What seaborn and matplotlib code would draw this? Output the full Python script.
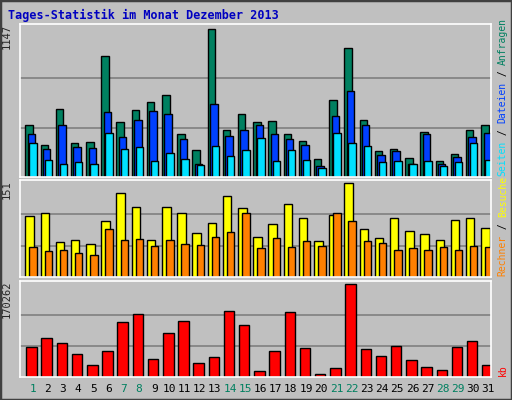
import matplotlib
matplotlib.use("Agg")
import matplotlib.pyplot as plt
import seaborn as sns
import numpy as np
import pandas as pd
from matplotlib.patches import Rectangle

days = list(range(1, 32))
anfragen = [400,252,524,260,275,937,423,516,579,633,337,213,1147,368,485,423,431,337,283,143,594,999,439,205,221,151,353,127,182,361,400]
dateien = [337,221,407,236,228,501,314,439,509,485,298,104,563,322,368,407,337,291,252,88,470,664,400,174,205,104,330,104,158,314,345]
seiten = [260,135,104,119,104,345,221,236,127,189,143,96,244,166,213,306,127,213,135,73,345,267,244,119,127,104,127,88,119,260,135]
besuche = [98,103,56,59,53,90,135,113,59,113,103,71,87,130,110,64,85,117,95,57,100,151,77,62,95,74,69,59,92,94,79]
rechner = [48,41,44,38,36,77,59,61,49,59,53,51,64,72,103,46,62,48,57,49,103,90,57,54,44,46,44,48,44,49,48]
kb = [54683,71461,62140,41634,21128,47226,101288,116202,32313,80782,103152,24856,36041,121794,95696,11807,47226,119930,52819,6214,17399,170262,50955,37905,56547,30449,19263,13671,54683,65868,21128]
weekend = [1,7,8,14,15,21,22,28,29]

sns.set_style("white")
plt.rcParams['font.family'] = ['DejaVu Sans Mono', 'DejaVu Sans']
BG = "#c0c0c0"
fig = plt.figure(figsize=(5.12, 4.0), dpi=100, facecolor=BG)
fig.patches.append(Rectangle((0, 0), 1, 1, transform=fig.transFigure, fill=False,
                             edgecolor="#404040", lw=2.5))
x = np.arange(31)
XL = (-0.73, 30.27)
L, W = 20/512, 471/512

def mkax(bottom, h, top):
    ax = fig.add_axes([L, bottom, W, h])
    ax.set_facecolor(BG)
    ax.set_xlim(*XL)
    ax.set_ylim(0, top)
    ax.set_xticks([]); ax.set_yticks([])
    for s in ax.spines.values():
        s.set_color("white"); s.set_linewidth(1.2)
    return ax

def grid(ax, m):
    for f in (1/3, 2/3):
        ax.axhline(m*f, color="#808080", lw=1.2, zorder=0)

ek = dict(edgecolor="black", linewidth=1, align="edge")

m1 = max(anfragen)
ax1 = mkax(1-177/400, 153/400, m1*1.035)
grid(ax1, m1)
ax1.bar(x-0.38, anfragen, 0.49, color="#008060", **ek)
ax1.bar(x-0.22, dateien, 0.49, color="#0040ff", **ek)
ax1.bar(x-0.11, seiten, 0.49, color="#00e0ff", **ek)
ax1.text(-0.028, 1.0, str(m1), transform=ax1.transAxes, rotation=90, ha="center", va="top", fontsize=7.5)

m2 = max(besuche)
ax2 = mkax(1-277/400, 97/400, m2*1.03)
grid(ax2, m2)
ax2.bar(x-0.38, besuche, 0.56, color="#ffff00", **ek)
ax2.bar(x-0.11, rechner, 0.49, color="#ff8000", **ek)
ax2.text(-0.028, 1.0, str(m2), transform=ax2.transAxes, rotation=90, ha="center", va="top", fontsize=7.5)

m3 = max(kb)
ax3 = mkax(1-377/400, 96/400, m3*1.035)
grid(ax3, m3)
df = pd.DataFrame({"pos": x + 0.03, "kb": kb})
ax3.bar(df["pos"], df["kb"], 0.69, color="#ff0000", edgecolor="black", linewidth=1)
ax3.set_xlim(*XL)
ax3.text(-0.028, 1.0, str(m3), transform=ax3.transAxes, rotation=90, ha="center", va="top", fontsize=7.5)
for i, d in enumerate(days):
    ax3.text(i + 0.1, -0.12, str(d), transform=ax3.get_xaxis_transform(), ha="center", va="center",
             fontsize=8, color="#008060" if d in weekend else "black")

FS = 7
STEP = FS * 0.602 * (100/72) / 400
def rlabel_up(y_bottom, parts):
    y = y_bottom
    for txt, col in parts:
        fig.text(0.982, y, txt, color=col, rotation=90, ha="center", va="bottom", fontsize=FS)
        y += len(txt) * STEP

rlabel_up(1-176/400, [("Seiten", "#00e0ff"), (" / ", "black"), ("Dateien", "#0040ff"), (" / ", "black"), ("Anfragen", "#008060")])
rlabel_up(1-276/400, [("Rechner", "#ff8000"), (" / ", "black"), ("Besuche", "#ffff00")])
rlabel_up(1-376/400, [("kb", "#ff0000")])

fig.text(8/512, 1-15/400, "Tages-Statistik im Monat Dezember 2013", color="#0000c0",
         fontsize=8.5, fontweight="bold", ha="left", va="center")
fig.savefig("out.png", dpi=100, facecolor=BG)
